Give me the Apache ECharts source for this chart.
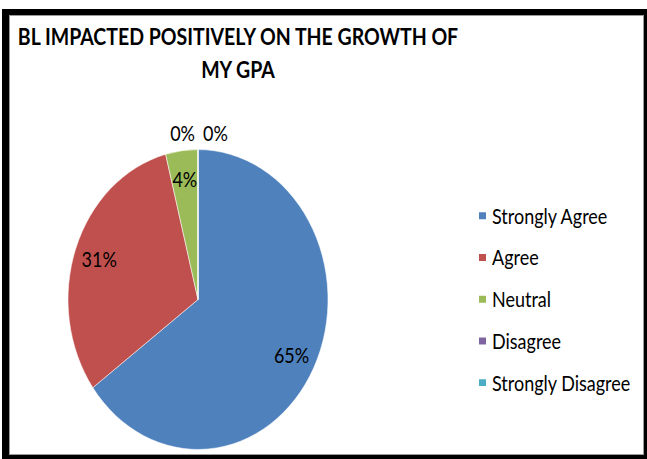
<!DOCTYPE html>
<html>
<head>
<meta charset="utf-8">
<script src="https://cdn.jsdelivr.net/npm/echarts@6/dist/echarts.min.js"></script>
<style>
  html, body { margin: 0; padding: 0; background: #fff; }
  #wrap { position: relative; width: 647px; height: 459px; overflow: hidden; }
  #pie {
    position: absolute; left: 0; top: 0;
    width: 647px; height: 398px;
    transform: scaleY(1.1533); transform-origin: 0 0;
  }
  #frame {
    position: absolute; left: 2px; top: 9px;
    width: 645px; height: 450px; box-sizing: border-box;
    border-style: solid; border-color: #000;
    border-width: 6px 3px 4px 7px;
    box-shadow: inset 0 0 0 1px #9a9a9a;
    pointer-events: none;
  }
</style>
</head>
<body>
<div id="wrap">
  <div id="pie"></div>
  <div id="frame"></div>
</div>
<script>
var categories = ['Strongly Agree', 'Agree', 'Neutral', 'Disagree', 'Strongly Disagree'];
var percents = [65, 31, 4, 0, 0];
var colors = ['#4F81BD', '#C0504D', '#9BBB59', '#8064A2', '#4BACC6'];

var font = 'Lato';

var pieData = categories.map(function (name, i) {
    return { name: name, value: percents[i] };
});

// same data again, on a ring, only to place the labels further out like Excel does
var labelData = categories.map(function (name, i) {
    var zero = percents[i] === 0;
    return {
        name: name,
        value: percents[i],
        label: { position: zero ? 'outside' : 'inside' }
    };
});

var chart = echarts.init(document.getElementById('pie'), null, { renderer: 'svg' });
chart.setOption({
    animation: false,
    color: colors,
    title: {
        text: 'BL IMPACTED POSITIVELY ON THE GROWTH OF\nMY GPA',
        left: 233,
        top: 12,
        textAlign: 'center',
        textStyle: {
            fontFamily: font,
            fontWeight: 'bold',
            fontSize: 19.5,
            lineHeight: 28.6,
            color: '#000'
        }
    },
    legend: {
        orient: 'vertical',
        left: 477,
        top: 178,
        padding: 0,
        icon: 'rect',
        itemWidth: 9,
        itemHeight: 8,
        itemGap: 18.2,
        data: categories,
        selectedMode: false,
        textStyle: {
            fontFamily: font,
            fontSize: 18,
            lineHeight: 16,
            color: '#000'
        }
    },
    series: [
        {
            type: 'pie',
            center: [198, 259.7],
            radius: [0, 130],
            startAngle: 90,
            clockwise: true,
            avoidLabelOverlap: false,
            silent: true,
            label: { show: false },
            labelLine: { show: false },
            itemStyle: { borderColor: '#fff', borderWidth: 0.5 },
            data: pieData
        },
        {
            type: 'pie',
            center: [198, 259.7],
            radius: [74, 130],
            startAngle: 90,
            clockwise: true,
            avoidLabelOverlap: false,
            silent: true,
            itemStyle: { color: 'rgba(0,0,0,0)', borderWidth: 0 },
            label: {
                show: true,
                formatter: '{c}%',
                fontFamily: font,
                fontSize: 18,
                color: '#000'
            },
            labelLine: { show: false, length: 14, length2: 0 },
            labelLayout: function (p) {
                if (p.dataIndex === 3) return { align: 'right', dx: 2 };
                if (p.dataIndex === 4) return { align: 'left', dx: 10 };
            },
            data: labelData
        }
    ]
});
</script>
</body>
</html>
